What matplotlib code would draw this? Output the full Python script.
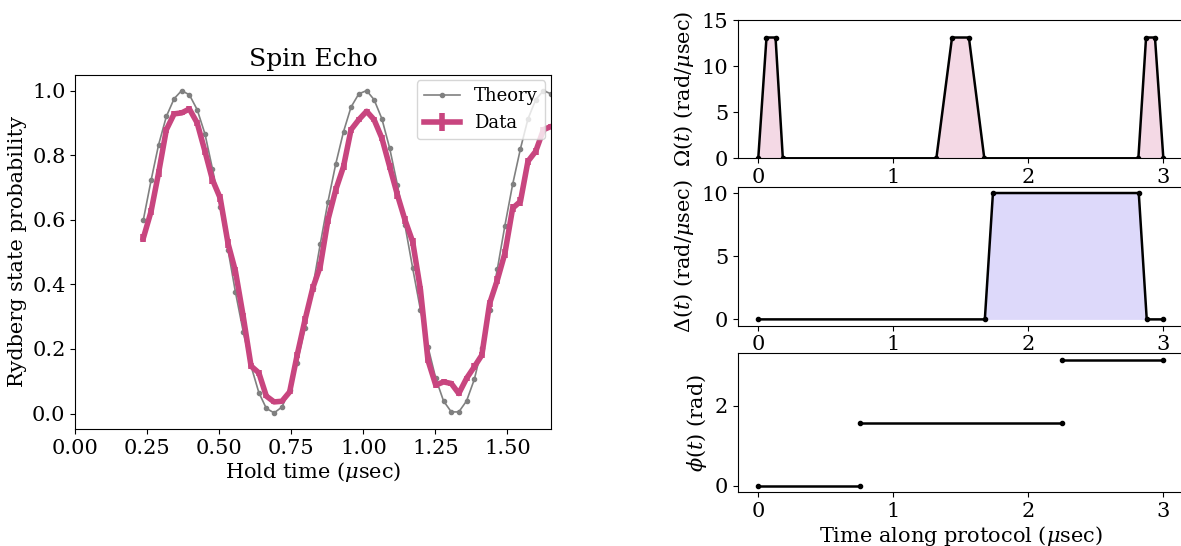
import matplotlib
matplotlib.use("Agg")
import matplotlib.pyplot as plt
import numpy as np

plt.rcParams['font.family'] = ['DejaVu Serif']
plt.rcParams['mathtext.fontset'] = 'dejavuserif'
plt.rcParams['font.size'] = 15

# ---------------- Spin echo data ----------------
hold_time = [0.236, 0.263, 0.289, 0.316, 0.343, 0.369, 0.396, 0.423, 0.450, 0.476,
             0.503, 0.530, 0.556, 0.583, 0.610, 0.637, 0.663, 0.690, 0.717, 0.744,
             0.770, 0.797, 0.824, 0.850, 0.877, 0.904, 0.931, 0.957, 0.984, 1.011,
             1.037, 1.064, 1.091, 1.118, 1.144, 1.171, 1.198, 1.224, 1.251, 1.278,
             1.305, 1.331, 1.358, 1.385, 1.411, 1.438, 1.465, 1.491, 1.518, 1.545,
             1.571, 1.598, 1.625, 1.651, 1.678]
theory = [0.599, 0.722, 0.832, 0.920, 0.975, 1.000, 0.987, 0.941, 0.866, 0.758,
          0.641, 0.507, 0.375, 0.253, 0.147, 0.065, 0.016, 0.002, 0.020, 0.072,
          0.157, 0.266, 0.390, 0.524, 0.656, 0.773, 0.873, 0.949, 0.990, 1.000,
          0.972, 0.913, 0.822, 0.708, 0.584, 0.450, 0.321, 0.207, 0.109, 0.039,
          0.005, 0.005, 0.039, 0.106, 0.203, 0.320, 0.448, 0.582, 0.710, 0.820,
          0.912, 0.972, 1.000, 0.990, 0.950]
data = [0.543, 0.626, 0.745, 0.879, 0.928, 0.931, 0.943, 0.900, 0.812, 0.724,
        0.667, 0.527, 0.440, 0.300, 0.147, 0.126, 0.054, 0.036, 0.038, 0.067,
        0.181, 0.289, 0.388, 0.455, 0.600, 0.693, 0.765, 0.879, 0.910, 0.936,
        0.910, 0.853, 0.765, 0.677, 0.600, 0.532, 0.383, 0.165, 0.088, 0.098,
        0.093, 0.062, 0.109, 0.145, 0.181, 0.341, 0.414, 0.496, 0.636, 0.657,
        0.781, 0.812, 0.879, 0.889, 0.874]
data_err = [0.012, 0.012, 0.011, 0.009, 0.008, 0.008, 0.008, 0.009, 0.011, 0.012,
            0.012, 0.013, 0.013, 0.012, 0.010, 0.009, 0.006, 0.005, 0.005, 0.007,
            0.010, 0.012, 0.013, 0.013, 0.013, 0.012, 0.011, 0.009, 0.008, 0.008,
            0.008, 0.010, 0.011, 0.012, 0.013, 0.013, 0.013, 0.010, 0.008, 0.008,
            0.008, 0.007, 0.008, 0.010, 0.010, 0.012, 0.013, 0.013, 0.013, 0.013,
            0.011, 0.010, 0.009, 0.009, 0.009]

# ---------------- Protocol waveforms ----------------
omega_t = [0.0, 0.061, 0.128, 0.182, 1.319, 1.435, 1.560, 1.674, 2.815, 2.872, 2.938, 3.0]
omega_v = [0.0, 13.1, 13.1, 0.0, 0.0, 13.1, 13.1, 0.0, 0.0, 13.1, 13.1, 0.0]

delta_t = [0.0, 1.678, 1.738, 2.818, 2.877, 3.0]
delta_v = [0.0, 0.0, 10.0, 10.0, 0.0, 0.0]

phase_segments_t = [[0.0, 0.75], [0.75, 2.25], [2.25, 3.0]]
phase_segments_v = [[0.0, 0.0], [np.pi / 2, np.pi / 2], [np.pi, np.pi]]

W, H = 1181, 546
fig = plt.figure(figsize=(W / 100, H / 100), dpi=100)

pink = '#C8457F'

# Left: spin echo
ax = fig.add_axes([75.3 / W, 1 - 429 / H, 475.4 / W, 354.5 / H])
ax.plot(hold_time, theory, color='gray', lw=1.2, marker='o', ms=3, label='Theory')
ax.errorbar(hold_time, data, yerr=data_err, color=pink, lw=4, elinewidth=4, label='Data')
ax.set_xlim(0, 1.65)
ax.set_xticks([0.0, 0.25, 0.5, 0.75, 1.0, 1.25, 1.5])
ax.set_xticklabels(['0.00', '0.25', '0.50', '0.75', '1.00', '1.25', '1.50'])
ax.set_yticks([0.0, 0.2, 0.4, 0.6, 0.8, 1.0])
ax.set_xlabel(r'Hold time ($\mu$sec)', labelpad=2)
ax.set_ylabel('Rydberg state probability', labelpad=4)
ax.set_title('Spin Echo', fontsize=18)
ax.legend(loc='upper right', fontsize=13, borderaxespad=0.3, handlelength=2)

# Right panels
rl, rw = 738 / W, 445.6 / W
ax1 = fig.add_axes([rl, 1 - 158.3 / H, rw, 138.3 / H])
ax2 = fig.add_axes([rl, 1 - 325.7 / H, rw, 139 / H])
ax3 = fig.add_axes([rl, 1 - 492.3 / H, rw, 139 / H])

ax1.plot(omega_t, omega_v, color='black', lw=1.8, marker='o', ms=3)
ax1.fill_between(omega_t, omega_v, 0, color=pink, alpha=0.2, lw=0)
ax1.set_ylim(0, 15)
ax1.set_yticks([0, 5, 10, 15])
ax1.set_ylabel(r'$\Omega(t)$ (rad/$\mu$sec)')

ax2.plot(delta_t, delta_v, color='black', lw=1.8, marker='o', ms=3)
ax2.fill_between(delta_t, delta_v, 0, color='#7B68EE', alpha=0.25, lw=0)
ax2.set_yticks([0, 5, 10])
ax2.set_ylabel(r'$\Delta(t)$ (rad/$\mu$sec)')

for st, sv in zip(phase_segments_t, phase_segments_v):
    ax3.plot(st, sv, color='black', lw=1.8, marker='o', ms=3)
ax3.set_yticks([0, 2])
ax3.set_ylabel(r'$\phi(t)$ (rad)')
ax3.set_xlabel(r'Time along protocol ($\mu$sec)', labelpad=2)

for a in (ax1, ax2, ax3):
    a.set_xticks([0, 1, 2, 3])
    a.set_xlim(-0.15, 3.15)

fig.savefig('out.png', dpi=100)
